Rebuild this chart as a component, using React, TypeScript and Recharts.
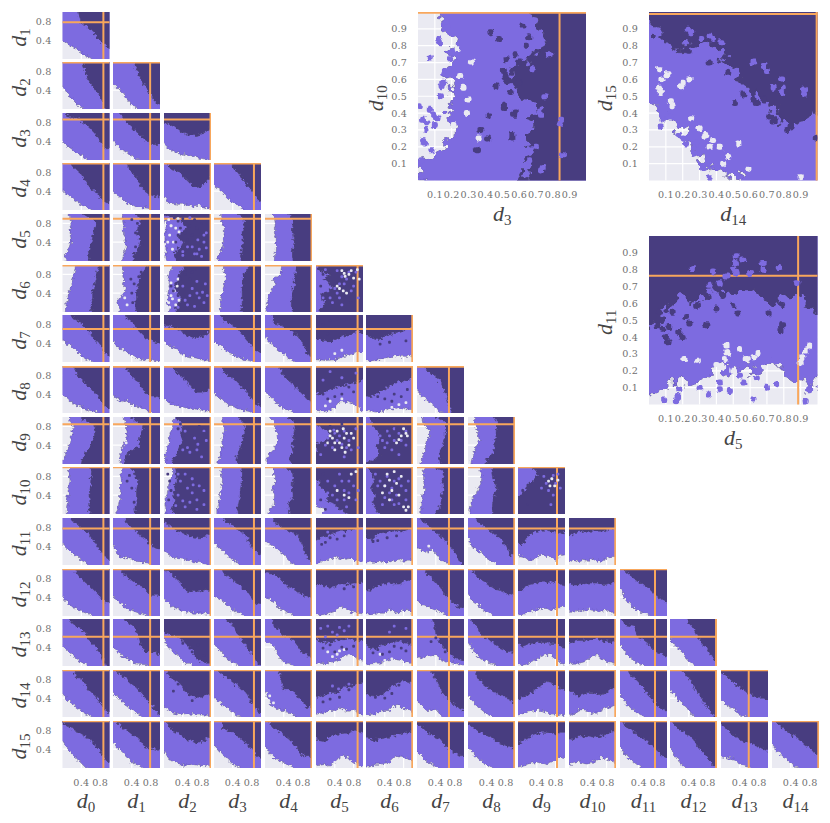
import React from "react";
import { ComposedChart, Area, Scatter, XAxis, YAxis, CartesianGrid, ReferenceLine } from "recharts";

const BG = "#EAEAF2";
const PURPLE = "#7D6BE0";
const DARK = "#483D80";
const ORANGE = "#F8A75C";
const EDGE = "#4a4668";
const TICK = "#707070";

const sampleGrid = [0, 0.1, 0.2, 0.3, 0.4, 0.5, 0.6, 0.7, 0.8, 0.9, 1];
const fineGrid = [0, 0.05, 0.1, 0.15, 0.2, 0.25, 0.3, 0.35, 0.4, 0.45, 0.5, 0.55, 0.6, 0.65, 0.7, 0.75, 0.8, 0.85, 0.9, 0.95, 1];
const smallTicks = [0.4, 0.8];
const bigTicks = [0.1, 0.2, 0.3, 0.4, 0.5, 0.6, 0.7, 0.8, 0.9];

// where the orange line sits for each dimension d0..d15
const truthX = [0.87, 0.79, 0.99, 0.85, 0.99, 0.885, 0.985, 0.68, 0.985, 0.83, 0.985, 0.745, 0.98, 0.59, 0.985];
const truthY = [0.78, 0.99, 0.863, 0.99, 0.897, 0.99, 0.7, 0.985, 0.846, 0.995, 0.775, 0.995, 0.62, 0.995, 0.995];

// these rows are vertical bands, so their edges are read along y instead of x
const bandRows = [4, 5, 8, 9];

// lower edge of the purple zone, one list per row and column, in percent
const purpleEdges = [
  [[40,32,26,20,13,8,2,0,0,0,0]],
  [[48,34,22,10,4,0,0,0,0,0,0],[55,45,35,20,8,2,0,0,0,0,0]],
  [[39,30,23,14,10,3,0,0,0,0,0],[42,30,20,14,8,3,0,0,0,0,0],[35,25,18,14,12,10,9,5,3,2,0]],
  [[42,32,26,18,11,7,2,0,0,0,0],[40,30,24,14,12,6,5,4,3,0,0],[28,14,14,12,12,10,8,10,8,5,4],[52,44,35,25,16,10,5,0,0,0,0]],
  [[8,4,10,14,18,18,16,16,18,16,14],[18,22,24,28,26,25,22,22,24,22,20],[6,4,4,4,2,2,4,4,4,2,0],[8,8,14,18,20,20,22,22,18,14,14],[20,20,22,22,24,24,20,20,22,20,15]],
  [[6,6,10,12,12,16,20,22,24,26,28],[12,14,8,14,24,28,20,24,20,22,22],[8,12,6,10,8,10,12,8,10,14,18],[12,14,14,14,18,20,22,24,24,20,20],[2,4,6,6,10,14,22,16,34,34,36],[0,0,0,0,0,0,0,0,0,0,0]],
  [[48,40,34,24,14,6,3,0,0,0,0],[45,30,28,22,14,8,6,4,6,3,2],[42,36,30,26,14,12,10,8,4,4,2],[42,38,30,20,16,10,6,4,2,0,0],[52,42,32,24,16,8,2,0,0,0,0],[5,4,3,4,5,8,14,16,18,22,20],[4,2,4,5,8,10,14,12,12,12,14]],
  [[40,30,22,16,14,8,5,3,0,0,0],[36,30,24,28,16,14,12,6,3,0,0],[30,22,18,14,12,10,10,8,6,4,2],[42,32,28,16,16,10,6,4,2,0,0],[45,36,26,16,8,6,2,0,0,0,0],[6,4,2,6,10,24,24,22,18,12,4],[6,4,2,2,4,10,8,12,10,8,6],[48,36,28,20,10,3,0,0,0,0,0]],
  [[0,2,6,10,14,16,20,20,22,16,14],[20,14,16,18,22,28,30,30,28,24,20],[4,4,2,6,8,10,12,14,18,20,20],[8,10,14,16,18,16,20,22,22,18,16],[4,4,8,18,22,28,26,24,20,20,10],[0,0,0,0,0,0,0,0,0,0,0],[0,0,0,0,0,0,0,0,0,0,0],[6,8,14,18,18,20,26,26,20,12,10],[6,8,12,14,20,24,22,20,16,14,14]],
  [[8,8,10,10,12,12,14,16,14,14,16],[6,10,12,14,14,16,16,18,16,18,22],[4,4,2,2,6,8,10,12,16,20,16],[6,6,10,12,14,14,16,18,16,14,16],[6,8,20,20,20,16,18,22,22,18,16],[12,18,0,0,0,0,0,0,0,0,0],[0,0,0,0,0,0,0,0,0,0,0],[8,8,8,10,12,16,16,14,14,14,12],[4,4,6,8,14,20,24,28,30,28,26],[0,0,0,0,0,0,0,0,0,0,0]],
  [[44,34,24,20,10,5,0,0,0,0,0],[42,22,14,16,14,8,6,5,3,0,0],[30,22,16,14,12,10,8,6,4,2,0],[48,38,30,20,10,6,0,0,0,0,0],[52,44,38,30,22,12,2,0,0,0,0],[3,8,10,12,18,14,12,14,10,8,8],[4,6,6,8,6,6,10,12,8,10,14],[36,32,26,34,24,10,6,2,0,0,0],[58,38,32,24,16,8,2,0,0,0,0],[20,18,12,10,14,24,18,18,8,20,22],[6,10,6,10,8,14,8,8,14,18,18]],
  [[40,30,20,14,10,6,2,0,0,0,0],[40,32,24,14,12,8,4,2,0,0,0],[36,26,18,14,10,10,6,6,6,4,2],[42,36,30,22,12,8,4,0,0,0,0],[40,36,30,16,12,6,2,0,0,0,0],[4,2,4,6,10,18,18,10,8,6,4],[4,4,6,6,6,14,10,6,12,14,6],[32,24,22,16,12,8,4,0,0,0,0],[44,30,26,14,8,3,0,0,0,0,0],[6,2,8,10,14,16,16,10,16,18,18],[8,8,12,10,14,12,12,10,12,8,8],[62,38,26,16,10,6,4,0,0,0,0]],
  [[42,34,24,16,8,2,0,0,0,0,0],[40,32,20,16,10,4,3,3,0,0,0],[56,40,30,22,10,4,2,0,0,0,0],[46,36,24,14,6,3,0,0,0,0,0],[50,50,40,20,8,4,2,0,0,0,0],[6,6,4,8,10,14,20,24,22,14,10],[6,4,6,6,10,14,14,12,10,6,6],[20,16,20,22,22,14,10,8,6,4,2],[50,36,22,12,12,4,2,0,0,0,0],[4,2,4,10,14,20,24,24,16,6,2],[4,6,6,8,12,22,24,14,10,8,6],[46,32,18,10,4,2,0,0,0,0,0],[58,44,34,26,8,2,0,0,0,0,0]],
  [[50,38,28,20,14,6,2,0,0,0,0],[50,42,32,24,16,8,2,0,0,0,0],[22,14,8,6,4,6,6,4,4,4,2],[40,34,24,16,10,4,0,0,0,0,0],[56,30,20,14,14,8,6,0,0,0,0],[6,8,10,14,14,18,16,12,14,8,2],[4,6,6,12,14,14,24,24,18,16,8],[36,24,14,14,16,4,0,0,0,0,0],[46,34,24,14,6,2,0,0,0,0,0],[4,6,10,12,14,14,10,4,4,6,2],[8,6,14,16,12,8,8,14,20,22,26],[48,32,22,12,8,2,0,0,0,0,0],[54,50,34,26,14,3,0,0,0,0,0],[38,26,20,16,4,2,0,0,0,0,0]],
  [[56,42,30,18,12,2,0,0,0,0,0],[54,42,34,24,12,8,2,0,0,0,0],[36,20,14,10,6,6,8,6,4,6,2],[50,38,28,18,8,4,0,0,0,0,0],[46,32,22,16,10,6,2,0,0,0,0],[4,6,8,4,10,22,28,18,10,8,4],[2,2,8,8,10,12,22,26,24,18,14],[34,24,14,10,4,0,0,0,0,0,0],[44,32,22,12,6,3,0,0,0,0,0],[2,4,8,10,12,10,8,12,16,24,22],[6,12,14,10,8,12,18,22,20,14,10],[46,30,20,12,4,0,0,0,0,0,0],[44,26,12,4,0,0,0,0,0,0,0],[24,22,20,18,6,4,2,0,0,0,0],[50,36,28,18,10,4,0,0,0,0,0]],
];

// lower edge of the dark zone, same layout
const darkEdges = [
  [[100,100,100,100,75,72,62,52,38,30,24]],
  [[100,100,100,100,100,70,55,42,28,3,0],[100,100,100,100,100,85,62,48,32,15,10]],
  [[100,93,90,90,82,75,66,55,40,26,26],[100,100,92,78,70,60,50,42,33,33,33],[78,76,70,66,58,53,52,52,56,62,68]],
  [[100,100,94,84,76,60,46,40,28,16,15],[100,100,100,95,80,68,50,40,32,28,28],[100,92,85,82,72,62,52,48,50,60,70],[100,100,100,100,92,80,66,55,40,25,18]],
  [[58,56,55,58,62,64,66,68,72,62,45],[45,42,50,55,58,55,52,52,58,60,45],[25,22,25,35,42,30,35,48,42,30,0],[58,56,58,60,62,60,60,62,64,64,50],[60,58,58,60,62,60,58,58,60,58,50]],
  [[62,60,62,64,64,66,68,70,72,74,76],[50,48,48,50,50,52,54,56,60,68,72],[26,24,34,38,30,22,26,30,32,40,46],[60,58,60,60,60,60,62,62,64,70,76],[60,56,56,56,58,60,62,62,64,66,68],[8,12,20,8,14,34,30,14,32,6,4]],
  [[100,100,95,90,82,72,62,44,36,20,10],[100,100,100,92,85,72,60,52,46,42,40],[78,76,74,70,62,56,52,50,54,58,68],[100,100,88,84,78,70,58,46,36,26,18],[100,100,82,80,75,70,64,56,42,18,12],[50,46,46,42,48,52,56,58,62,66,58],[58,52,48,48,54,58,62,64,68,72,74]],
  [[100,100,100,82,72,62,52,40,30,14,8],[100,100,100,90,80,70,56,42,36,36,32],[100,100,92,84,76,66,52,44,44,46,52],[100,100,88,80,74,64,54,46,32,20,15],[100,100,100,95,80,68,62,50,40,28,22],[42,40,44,50,54,56,60,62,64,66,72],[36,34,40,46,50,58,62,68,66,72,78],[100,100,90,84,78,66,46,10,0,0,0]],
  [[40,42,48,54,60,64,68,68,70,55,34],[22,26,30,40,58,56,58,62,66,52,36],[20,16,28,30,34,40,36,38,40,36,20],[50,46,50,54,58,60,62,66,66,62,50],[56,52,56,60,58,60,60,62,64,62,50],[0,0,0,4,0,18,30,24,6,0,0],[0,18,30,25,22,30,28,26,16,12,8],[50,48,48,50,56,58,60,60,62,62,40],[36,40,50,56,56,58,60,60,62,62,56]],
  [[58,56,58,58,56,58,60,60,62,64,60],[48,46,48,50,50,50,52,52,48,44,34],[24,16,22,22,20,24,22,28,26,26,24],[52,50,52,54,56,56,58,60,60,60,58],[52,52,50,56,60,58,58,58,60,56,42],[70,50,40,22,26,16,6,8,0,0,0],[30,22,14,16,20,12,12,18,14,10,6],[38,46,50,52,52,56,56,52,56,58,34],[52,52,52,54,56,60,60,54,52,50,54],[0,0,0,0,6,12,18,30,40,40,30]],
  [[100,100,94,88,78,72,60,46,32,18,10],[100,100,100,86,80,72,60,54,42,36,32],[92,86,78,72,68,64,60,58,58,62,68],[100,100,96,90,84,74,68,62,38,28,22],[100,100,90,84,78,72,70,62,44,14,6],[50,58,60,66,68,72,72,74,76,80,82],[62,52,62,68,70,72,72,74,72,76,78],[100,94,88,80,70,62,52,40,26,10,0],[100,100,92,84,76,70,62,54,42,22,20],[48,42,60,68,72,74,74,72,70,66,70],[60,68,70,72,72,72,72,72,74,78,80]],
  [[100,100,100,92,78,68,62,52,42,30,30],[100,100,90,84,76,68,62,56,44,44,44],[98,94,84,76,62,52,52,52,54,56,54],[100,100,92,84,78,70,60,54,40,26,24],[92,90,88,84,72,62,58,50,46,40,40],[66,66,64,60,62,68,68,68,70,70,72],[56,54,62,66,68,70,68,68,72,78,76],[100,100,90,82,72,60,46,36,26,18,18],[100,96,84,76,70,62,56,54,50,44,46],[52,54,66,68,70,72,72,72,74,68,66],[68,66,66,68,70,70,70,66,68,70,70],[100,96,88,80,74,66,60,50,42,34,28]],
  [[100,100,92,84,78,68,50,40,30,6,0],[100,100,100,92,88,78,42,30,30,30,24],[72,68,64,62,54,44,36,14,10,6,6],[100,100,100,92,88,66,56,40,28,10,2],[100,100,84,76,64,62,56,42,28,22,20],[58,52,50,50,54,56,56,58,56,54,54],[46,38,36,42,46,50,50,54,50,48,44],[100,100,100,100,70,46,36,26,18,16,12],[100,92,82,64,60,52,44,36,32,30,28],[50,42,46,48,50,50,50,48,48,42,40],[48,52,54,54,54,58,60,52,54,50,52],[100,88,86,84,60,56,48,36,28,24,20],[100,100,100,100,92,80,60,46,36,18,2]],
  [[100,100,100,84,82,66,54,44,30,16,8],[100,96,88,80,70,62,50,40,30,14,6],[100,90,78,74,62,48,44,42,42,48,46],[100,96,88,82,74,66,56,50,30,16,8],[100,100,100,94,58,58,56,42,32,20,20],[44,42,48,50,50,56,62,64,68,72,74],[50,46,44,46,50,60,68,72,78,74,72],[100,100,100,94,82,60,44,34,26,18,14],[100,100,86,72,64,56,50,46,42,36,30],[38,42,48,52,60,68,76,74,68,60,58],[58,50,44,48,52,52,48,48,52,60,62],[100,100,92,84,74,60,46,36,24,18,14],[100,100,100,94,82,66,50,34,20,6,0],[96,90,80,70,62,56,50,46,40,40,38]],
  [[96,90,84,78,72,66,60,46,36,22,10],[100,96,86,80,72,66,56,42,44,40,40],[100,88,78,74,66,60,58,50,56,62,66],[100,100,84,80,76,68,60,50,42,26,20],[100,96,84,78,70,62,52,40,26,26,18],[64,58,56,68,72,72,74,74,78,78,76],[66,62,58,62,64,66,70,72,74,76,78],[94,88,78,72,66,62,48,40,32,28,24],[92,88,80,74,70,64,58,52,48,44,40],[50,58,62,70,74,76,76,74,72,76,76],[62,60,68,68,66,64,66,68,72,76,78],[100,88,84,76,66,62,56,46,36,24,22],[100,92,82,76,70,60,46,34,22,8,2],[94,86,74,68,60,56,54,50,46,40,36],[100,94,86,78,72,66,58,48,44,32,26]],
];

// blots that the edges cannot describe: "row-col" -> x,y pairs in percent
const darkSpecks: Record<string, number[]> = {
  "4-1": [40,88,55,70,48,60,62,35,52,80,48,30],
  "4-2": [30,85,40,90,55,75,70,70,80,80,45,60,60,55,30,55,50,45,22,92,35,70,25,40,65,88],
  "5-1": [55,75,45,60,40,40,60,85,42,20,38,70],
  "5-2": [35,70,45,80,60,85,25,60,30,35,20,45,45,88,70,92,15,55,32,18,55,70],
  "5-5": [15,80,25,70,10,55,40,60,60,35,75,20,30,15],
  "6-5": [15,80,30,88,45,92,25,60,65,90],
  "6-6": [70,85,85,45,50,42,30,38],
  "7-5": [40,35,55,40,25,30,80,45,15,40,70,55],
  "7-6": [60,40,75,35,40,30,88,50,25,35,55,25],
  "8-2": [60,60,40,60,50,75,75,80,30,75,68,48,85,65,35,85],
  "8-5": [30,80,55,85,70,60,30,45,50,25,42,60],
  "8-6": [40,70,60,60,80,45,55,40,45,55,65,75],
  "9-1": [35,82,40,55,45,25,30,70],
  "9-2": [15,50,10,30,12,70,8,85],
  "9-5": [20,10,10,30,30,50,15,85],
  "9-9": [20,20,10,50],
  "10-5": [30,58,45,55,20,48,60,62,12,44],
  "10-6": [25,52,45,58,65,62,15,50],
  "11-5": [30,62,60,58,80,62],
  "12-5": [30,45,55,40,80,42,15,38,40,30,65,36],
  "12-6": [25,35,50,30,75,38,60,42,85,32,35,25,15,28],
  "12-2": [60,30,72,45,85,22,55,38,40,48],
  "12-7": [40,60,60,30,30,52],
  "13-2": [45,62,20,55,30,70,60,35,70,52],
  "13-5": [30,38,50,42,15,32,70,58],
  "13-6": [20,42,40,40,55,50,70,68],
};
const purpleSpecks: Record<string, number[]> = {
  "4-2": [60,30,40,20,75,25,85,40,70,15,90,60,55,92,50,30,65,15,80,10,85,55,72,45,40,12,90,28],
  "5-2": [60,50,70,40,85,20,50,15,70,65,88,60,40,55,55,35,75,30,65,12,92,35,45,25,30,10,82,42],
  "5-5": [45,40,50,60,25,45,65,70,55,15,80,55,30,30,85,85,20,90,35,20,50,30,60,60,70,85,40,50,20,65,15,30,75,45,90,30,55,75,12,12,45,88],
  "7-5": [30,88,55,75,85,85,15,70],
  "8-2": [50,35,70,30,90,50,55,25,80,15,65,55,85,70,40,30,45,70,72,42],
  "8-5": [15,60,10,20,90,35,85,75,60,15,35,35,45,50,60,70,70,50,25,55,50,60,75,30,40,65,20,40,65,35,55,42,38,72],
  "8-6": [70,20,50,60,85,70,35,50,30,60,45,45,60,50,45,70,25,45,75,50,60,75,40,35,70,65,85,40,55,30,20,25],
  "9-2": [30,40,50,55,70,30,60,75,45,15,85,50,35,70,40,28,60,45,75,60,55,25,30,85,70,10,85,20,45,85,62,62,25,18],
  "9-5": [45,30,60,50,70,70,50,85,25,70,85,30,35,20,60,30,70,45,40,60,55,70,80,60,25,45,65,15,90,50,35,40],
  "9-6": [40,35,55,55,70,75,85,30,25,60,60,20,45,80,35,20,50,45,30,70,65,40,75,60,40,60,55,30,85,50,70,22,20,85,60,70,90,70],
  "9-9": [60,65,75,40,85,85,50,55,70,20,65,50,80,65,55,80,75,82,90,55],
  "12-5": [25,85,50,82,70,85,10,80,35,72,60,75,20,62,45,66],
  "12-6": [60,85,85,80,50,72],
  "10-5": [25,70,45,68,70,72],
  "13-5": [60,62,35,66,48,60,70,70],
};
const greySpecks: Record<string, number[]> = {
  "4-1": [18,55,14,30],
  "4-2": [15,75,8,40,25,70,32,62,12,55,20,40,30,90,18,25,10,88],
  "5-1": [15,55,25,30,12,85,30,15,18,40],
  "5-2": [15,35,25,15,30,70,10,20,22,45,12,10,18,28,8,50,28,55,32,25,15,62,8,85],
  "5-5": [55,88,70,80,50,50,65,40,88,90,92,70,60,82,75,88,62,76,80,72,45,55,58,45],
  "6-5": [55,25,40,18],
  "7-5": [30,25,55,30,20,15,70,12],
  "7-6": [70,18,55,12,85,22],
  "8-1": [15,60,28,45],
  "8-5": [30,60,45,70,60,55,70,40,55,35,40,45,75,65,25,45,35,55,50,45,65,65,80,55,58,75,40,30,30,70,62,25],
  "8-6": [75,60,85,65,70,52,88,60,80,75,65,45],
  "9-5": [75,85,85,90,15,8,60,40,70,35,45,50],
  "9-6": [40,60,55,50,70,40,80,15,85,8,45,85,60,90,50,30,35,45,65,65,75,80,50,72,90,15],
  "9-9": [65,70,72,75,78,60,68,60,85,72],
  "12-5": [25,30,45,25,60,35,70,22,35,20,50,32],
  "12-6": [40,12,55,15,30,25],
  "13-4": [10,45,18,30,12,20,30,12,8,35],
  "10-7": [25,40,30,20],
  "14-5": [40,12,55,6],
};

// the three enlarged pairs
const bigA = {
  purple: [3,2,0,8,15,20,21,20,16,18,20,18,17,18,20,20,21,18,17,16,12],
  dark: [62,65,65,66,66,65,65,68,72,68,62,58,56,55,60,72,73,75,72,70,62],
  darkDots: [43,88,48,84,52,72,51,65,53,59,51,43,57,39,56,25,42,38,41,25,62,92,66,85,64,80,58,75,55,52,60,70,52,62,51,45,56,27,58,41,35,18,37,30,46,56,60,58],
  purpleDots: [68,66,73,39,66,12,84,34,86,15,73,6,78,75,70,20,75,50,67,18,72,41,85,36,74,8],
  greyDots: [30,48,29,40,32,70,21,33,23,78,27,55,36,25,25,62],
  grapeDots: [13,82,7,73,16,65,14,56,7,42,11,37,3,36,1,44,3,24,8,18,1,10,17,93,19,72,13,50,10,33,5,30,12,84,15,58,9,39,5,34,17,91,4,22,2,12,15,63],
};
const bigB = {
  purple: [47,42,38,33,30,22,12,8,6,3,3,2,0,0,0,0,0,0,0,0,0],
  dark: [95,88,83,79,80,80,82,80,78,74,66,60,56,52,44,42,35,33,35,38,40],
  darkDots: [23,77,47,64,56,51,51,46,74,35,99,25,64,46,68,48,36,70,72,38,82,30,62,48,75,37,84,32,28,85],
  purpleDots: [23,90,36,86,43,82,68,68,79,52,92,51,79,60,31,84,62,70,74,55,80,55,25,88,38,84,70,65,92,54],
  greyDots: [6,55,19,56,6,66,24,60,11,63,13,47,30,31,38,24,59,7,90,2,47,14,53,22,8,60,42,20,34,27,44,10,7,52,20,58,25,37,33,26,14,44,36,20],
  grapeDots: [7,32,18,27,27,16,36,2,22,22,32,8,12,38,8,36,28,22,20,25],
};
const bigC = {
  purple: [5,5,10,14,14,12,14,18,24,20,22,20,22,18,24,25,18,16,14,10,14],
  dark: [46,50,55,62,62,60,66,62,72,66,62,68,68,66,62,60,62,62,66,58,56],
  darkDots: [10,40,18,43,5,47,6,55,29,59,24,48,34,47,44,65,53,54,79,47,50,59,71,54,79,59,12,46,22,52,14,55,40,57,11,37,8,45,20,40,28,58,78,44],
  purpleDots: [52,88,56,86,50,80,38,79,36,71,68,84,77,81,26,81,60,78,46,76,42,72,88,72,51,84,52,78,68,80,36,67],
  greyDots: [46,35,21,27,29,26,45,27,65,30,95,35,91,28,54,33,47,31,40,24,58,27,68,22,46,31,62,28,93,32,90,25,50,20,44,22],
  grapeDots: [16,2,18,9,9,3,62,3,42,13,56,13,95,9,93,2,64,16,30,10,35,6,48,8,76,12,17,5,42,9,54,17,70,10],
};

function MathName({ x, y, name, sub, rotate }: { x: number; y: number; name: string; sub: string; rotate?: boolean }) {
  return (
    <text
      x={x}
      y={y}
      textAnchor="middle"
      fill="#444"
      fontFamily="Liberation Serif"
      fontSize={22}
      fontStyle="italic"
      transform={rotate ? `rotate(-90 ${x} ${y})` : undefined}
    >
      {name}
      <tspan dy={4} fontSize={15} fontStyle="normal">{sub}</tspan>
    </text>
  );
}

const tickStyle = { fontSize: 9.6, fill: TICK, fontFamily: "DejaVu Serif", letterSpacing: 0.2 };

// edges that touch the border are pushed past it so the roughening never bites into the frame
const PAD = 0.08;
function past(v: number) {
  if (v <= 0) return -PAD;
  if (v >= 100) return 1 + PAD * 2;
  return v / 100;
}

function dots(list: number[] | undefined, alongY: boolean) {
  const out: { t: number; v: number }[] = [];
  if (!list) return out;
  for (let i = 0; i < list.length; i += 2) {
    const px = list[i] / 100;
    const py = list[i + 1] / 100;
    out.push(alongY ? { t: py, v: px } : { t: px, v: py });
  }
  return out;
}

interface PanelProps {
  left: number;
  top: number;
  size: number;
  grid: number[];
  ticks: number[];
  purple: number[];
  dark: number[];
  alongY: boolean;
  lineX: number;
  lineY: number;
  darkDots?: number[];
  purpleDots?: number[];
  greyDots?: number[];
  grapeDots?: number[];
  dotSize: number;
  rough: string;
  dotRough: string;
  labelLeft?: number;
  labelBelow?: number;
  showY: boolean;
  showX: boolean;
  xSub: string;
  ySub: string;
  labelY: number;
}

function Panel(p: PanelProps) {
  const n = p.grid.length - 1;
  const data = [
    { t: -PAD, purple: past(p.purple[0]), dark: past(p.dark[0]) },
    ...p.grid.map((t, i) => ({ t, purple: past(p.purple[i]), dark: past(p.dark[i]) })),
    { t: 1 + PAD, purple: past(p.purple[n]), dark: past(p.dark[n]) },
  ];
  const leftPad = p.showY ? p.labelLeft! : 0;
  const belowPad = p.showX ? p.labelBelow! : 0;
  const width = p.size + leftPad;
  const height = p.size + belowPad;
  const blot = (fill: string) => (s: any) => (
    <rect x={s.cx - p.dotSize} y={s.cy - p.dotSize} width={p.dotSize * 2} height={p.dotSize * 2} rx={p.dotSize * 0.7} fill={fill} filter={p.dotRough ? `url(#${p.dotRough})` : undefined} />
  );
  return (
    <div style={{ position: "absolute", left: p.left - leftPad, top: p.top, width, height }}>
      <ComposedChart
        width={width}
        height={height}
        data={data}
        layout={p.alongY ? "vertical" : "horizontal"}
        margin={{ top: 0, right: 0, bottom: 0, left: 0 }}
      >
        <CartesianGrid fill={BG} stroke="#fff" strokeWidth={1.2} horizontalValues={p.ticks} verticalValues={p.ticks} />
        <XAxis
          type="number"
          domain={[0, 1]}
          allowDataOverflow
          dataKey={p.alongY ? undefined : "t"}
          ticks={p.ticks}
          interval={0}
          hide={!p.showX}
          height={belowPad}
          axisLine={false}
          tickLine={false}
          tickSize={0}
          tickMargin={11}
          tick={tickStyle}
          tickFormatter={(v: number) => v.toFixed(1)}
        />
        <YAxis
          type="number"
          domain={[0, 1]}
          allowDataOverflow
          reversed={p.alongY}
          dataKey={p.alongY ? "t" : undefined}
          ticks={p.ticks}
          interval={0}
          hide={!p.showY}
          width={leftPad}
          axisLine={false}
          tickLine={false}
          tickSize={0}
          tickMargin={11}
          tick={tickStyle}
          tickFormatter={(v: number) => v.toFixed(1)}
        />
        <Area dataKey="purple" baseValue={1 + PAD * 2} type="linear" fill={PURPLE} fillOpacity={1} stroke={EDGE} strokeOpacity={0.6} strokeWidth={0.6} filter={`url(#${p.rough})`} dot={false} activeDot={false} isAnimationActive={false} />
        <Area dataKey="dark" baseValue={1 + PAD * 2} type="linear" fill={DARK} fillOpacity={1} stroke={EDGE} strokeOpacity={0.8} strokeWidth={0.6} filter={`url(#${p.rough})`} dot={false} activeDot={false} isAnimationActive={false} />
        {p.grapeDots && <Scatter data={dots(p.grapeDots, p.alongY)} dataKey="v" shape={blot(PURPLE)} isAnimationActive={false} />}
        {p.purpleDots && <Scatter data={dots(p.purpleDots, p.alongY)} dataKey="v" shape={blot(PURPLE)} isAnimationActive={false} />}
        {p.greyDots && <Scatter data={dots(p.greyDots, p.alongY)} dataKey="v" shape={blot(BG)} isAnimationActive={false} />}
        {p.darkDots && <Scatter data={dots(p.darkDots, p.alongY)} dataKey="v" shape={blot(DARK)} isAnimationActive={false} />}
        <ReferenceLine x={p.lineX} stroke={ORANGE} strokeWidth={2} />
        <ReferenceLine y={p.lineY} stroke={ORANGE} strokeWidth={2} />
        {p.showY && <MathName x={p.labelY} y={p.size / 2 + 2} name="d" sub={p.ySub} rotate />}
        {p.showX && <MathName x={leftPad + p.size / 2} y={p.size + 40} name="d" sub={p.xSub} />}
      </ComposedChart>
    </div>
  );
}

function RoughFilter({ id, freq, seed, scale, octaves }: { id: string; freq: number; seed: number; scale: number; octaves: number }) {
  return (
    <filter id={id} x="-30%" y="-30%" width="160%" height="160%" colorInterpolationFilters="sRGB">
      <feTurbulence type="fractalNoise" baseFrequency={freq} numOctaves={octaves} seed={seed} result="n" />
      <feDisplacementMap in="SourceGraphic" in2="n" scale={scale} xChannelSelector="R" yChannelSelector="G" />
    </filter>
  );
}

const originX = 62.5;
const originY = 11.5;
const pitch = 50.65;
const seeds = [3, 8, 14, 21, 29, 37, 46];

export default function App() {
  return (
    <div style={{ position: "absolute", left: 0, top: 0, width: 830, height: 823, background: "#fff", overflow: "hidden" }}>
      <svg width={0} height={0} style={{ position: "absolute" }}>
        <defs>
          {seeds.map((s, i) => (
            <RoughFilter key={s} id={`rough${i}`} freq={0.32} seed={s} scale={6} octaves={2} />
          ))}
          <RoughFilter id="roughBig" freq={0.09} seed={11} scale={26} octaves={3} />
          <filter id="roughDot" x="-100%" y="-100%" width="300%" height="300%" colorInterpolationFilters="sRGB">
            <feTurbulence type="fractalNoise" baseFrequency={0.16} numOctaves={2} seed={5} result="n" />
            <feDisplacementMap in="SourceGraphic" in2="n" scale={5} xChannelSelector="R" yChannelSelector="G" />
          </filter>
        </defs>
      </svg>
      {purpleEdges.map((row, r) =>
        row.map((purple, c) => (
          <Panel
            key={`${r}-${c}`}
            left={originX + c * pitch}
            top={originY + r * pitch}
            size={47}
            grid={sampleGrid}
            ticks={smallTicks}
            purple={purple}
            dark={darkEdges[r][c]}
            alongY={bandRows.includes(r)}
            lineX={truthX[c]}
            lineY={truthY[r]}
            darkDots={darkSpecks[`${r}-${c}`]}
            purpleDots={purpleSpecks[`${r}-${c}`]}
            greyDots={greySpecks[`${r}-${c}`]}
            dotSize={1.4}
            rough={`rough${(r * 3 + c) % seeds.length}`}
            dotRough=""
            labelLeft={originX}
            labelBelow={56}
            showY={c === 0}
            showX={r === 14}
            xSub={String(c)}
            ySub={String(r + 1)}
            labelY={26}
          />
        ))
      )}
      <Panel left={417.7} top={12} size={168.5} grid={fineGrid} ticks={bigTicks} purple={bigA.purple} dark={bigA.dark} alongY lineX={0.84} lineY={0.995}
        darkDots={bigA.darkDots} purpleDots={bigA.purpleDots} greyDots={bigA.greyDots} grapeDots={bigA.grapeDots} dotSize={3} rough="roughBig" dotRough="roughDot"
        labelLeft={60} labelBelow={56} showY showX xSub="3" ySub="10" labelY={25} />
      <Panel left={649.3} top={12} size={168.5} grid={fineGrid} ticks={bigTicks} purple={bigB.purple} dark={bigB.dark} alongY={false} lineX={0.995} lineY={0.988}
        darkDots={bigB.darkDots} purpleDots={bigB.purpleDots} greyDots={bigB.greyDots} grapeDots={bigB.grapeDots} dotSize={3} rough="roughBig" dotRough="roughDot"
        labelLeft={60} labelBelow={56} showY showX xSub="14" ySub="15" labelY={23} />
      <Panel left={649.3} top={236} size={168.5} grid={fineGrid} ticks={bigTicks} purple={bigC.purple} dark={bigC.dark} alongY={false} lineX={0.885} lineY={0.764}
        darkDots={bigC.darkDots} purpleDots={bigC.purpleDots} greyDots={bigC.greyDots} grapeDots={bigC.grapeDots} dotSize={3} rough="roughBig" dotRough="roughDot"
        labelLeft={60} labelBelow={56} showY showX xSub="5" ySub="11" labelY={23} />
    </div>
  );
}
